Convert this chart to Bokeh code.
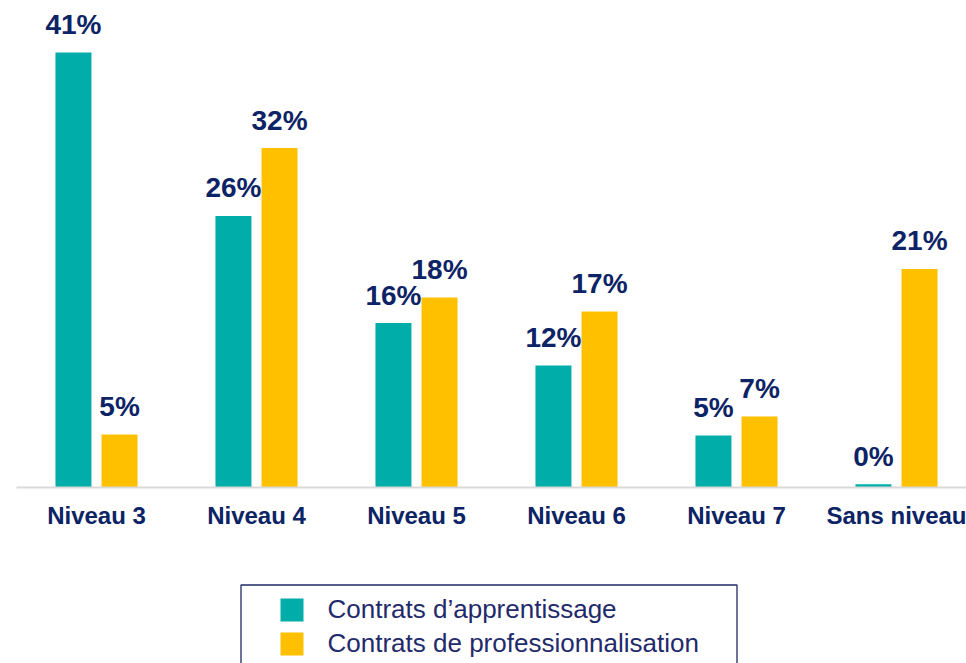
from bokeh.plotting import figure
from bokeh.layouts import column
from bokeh.models import ColumnDataSource, Range1d, BoxAnnotation, Label, FixedTicker
from bokeh.core.properties import value
from bokeh.embed import file_html
from bokeh.resources import INLINE

# ---- data ----
categories = ["Niveau 3", "Niveau 4", "Niveau 5", "Niveau 6", "Niveau 7", "Sans niveau"]
apprentissage = [41.0, 25.6, 15.5, 11.5, 4.9, 0.3]
professionnalisation = [5.0, 32.0, 17.9, 16.6, 6.7, 20.6]
labels_apprentissage = ["41%", "26%", "16%", "12%", "5%", "0%"]
labels_professionnalisation = ["5%", "32%", "18%", "17%", "7%", "21%"]
series_names = ["Contrats d\u2019apprentissage", "Contrats de professionnalisation"]

# ---- style ----
TEAL = "#00ADA9"
YELLOW = "#FFC000"
NAVY = "#0C2366"
LEG_NAVY = "#1F2A6B"
FONT = "Liberation Sans"

centers = [i + 0.5 for i in range(len(categories))]
OFF = 0.144
BAR_W = 0.225

src_a = ColumnDataSource(dict(x=[c - OFF for c in centers], top=apprentissage, label=labels_apprentissage))
src_p = ColumnDataSource(dict(x=[c + OFF for c in centers], top=professionnalisation, label=labels_professionnalisation))

TOP_H = 540
p = figure(width=966, height=TOP_H, output_backend="svg", toolbar_location=None,
           x_range=Range1d(0, 5.9375), y_range=Range1d(0, 45.15),
           y_axis_location=None,
           min_border_left=16, min_border_right=0, min_border_top=8,
           min_border_bottom=TOP_H - 487)

p.vbar(x="x", top="top", width=BAR_W, source=src_a, fill_color=TEAL, line_color=None)
p.vbar(x="x", top="top", width=BAR_W, source=src_p, fill_color=YELLOW, line_color=None)

for src in (src_a, src_p):
    p.text(x="x", y="top", text="label", source=src, text_align="center",
           text_baseline="alphabetic", y_offset=-28,
           text_font=value(FONT), text_font_style="bold", text_font_size="28px",
           text_color=NAVY)

ax = p.xaxis[0]
ax.ticker = FixedTicker(ticks=centers)
ax.major_label_overrides = {c: cat for c, cat in zip(centers, categories)}
ax.axis_line_color = "#D9D9D9"
ax.axis_line_width = 2
ax.major_tick_line_color = None
ax.minor_tick_line_color = None
ax.major_label_standoff = 8
ax.major_label_text_font = FONT
ax.major_label_text_font_style = "bold"
ax.major_label_text_font_size = "24px"
ax.major_label_text_color = NAVY

p.grid.visible = False
p.outline_line_color = None

# ---- legend panel (box cut off at the bottom edge) ----
LEG_H = 663 - TOP_H
FRAME_L = 16
leg = figure(width=966, height=LEG_H, output_backend="svg", toolbar_location=None,
             x_range=Range1d(0, 1), y_range=Range1d(0, 1),
             x_axis_location=None, y_axis_location=None,
             min_border_left=FRAME_L, min_border_right=0, min_border_top=0, min_border_bottom=0)
leg.grid.visible = False
leg.outline_line_color = None

def sx(page_x):
    return page_x - FRAME_L

def sy(page_y):
    return 663 - page_y

leg.add_layout(BoxAnnotation(left=sx(240.5), right=sx(736.5), top=sy(584.5), bottom=sy(700),
                             left_units="screen", right_units="screen",
                             top_units="screen", bottom_units="screen",
                             fill_color=None, line_color=LEG_NAVY, line_alpha=1.0,
                             line_width=1.3))
for i, (name, col) in enumerate(zip(series_names, [TEAL, YELLOW])):
    dy = 34 * i
    leg.add_layout(BoxAnnotation(left=sx(280), right=sx(303), top=sy(598 + dy), bottom=sy(621 + dy),
                                 left_units="screen", right_units="screen",
                                 top_units="screen", bottom_units="screen",
                                 fill_color=col, fill_alpha=1.0, line_color=None))
    leg.add_layout(Label(x=sx(327), y=sy(608 + dy), x_units="screen", y_units="screen",
                         text=name, text_baseline="alphabetic", text_font=FONT,
                         text_font_size="26px", text_color=LEG_NAVY))

layout = column(p, leg, spacing=0)
open("out.html", "w").write(file_html(layout, INLINE))
